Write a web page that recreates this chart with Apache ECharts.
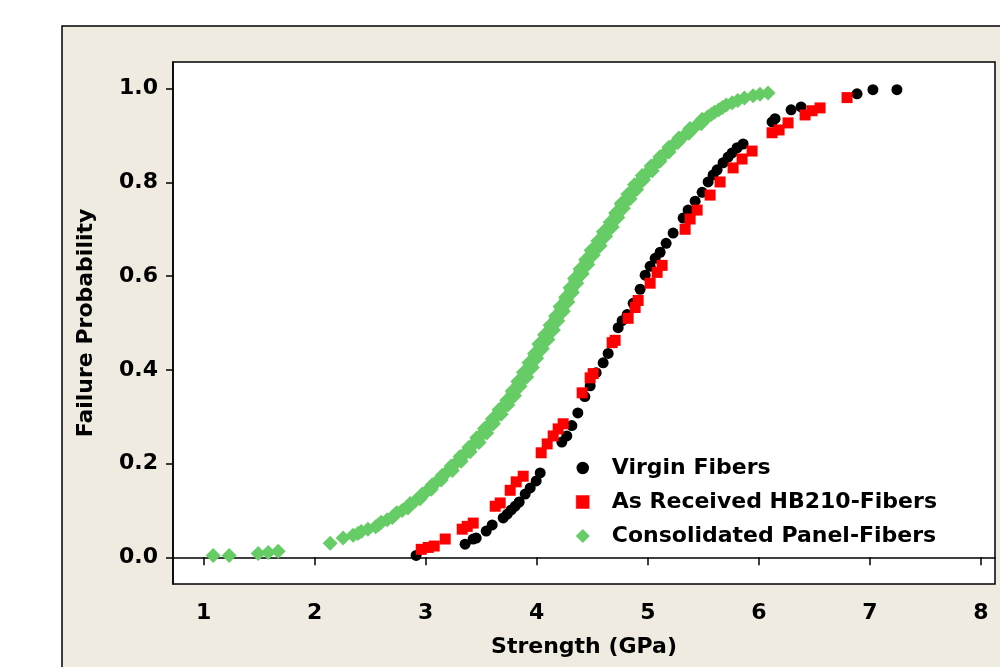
<!DOCTYPE html>
<html>
<head>
<meta charset="utf-8">
<script src="https://cdn.jsdelivr.net/npm/echarts@6/dist/echarts.min.js"></script>
<style>
html,body{margin:0;padding:0;background:#fff;}
#c{width:1000px;height:667px;}
</style>
</head>
<body>
<div id="c"></div>
<script>
const seriesNames = ['Virgin Fibers', 'As Received HB210-Fibers', 'Consolidated Panel-Fibers'];
const xTicks = [1, 2, 3, 4, 5, 6, 7, 8];
const yTicks = [0, 0.2, 0.4, 0.6, 0.8, 1.0];
const xTitle = 'Strength (GPa)';
const yTitle = 'Failure Probability';

const virginFibers = [
[2.914,0.004],[3.355,0.028],[3.427,0.039],[3.455,0.041],[3.545,0.056],[3.599,0.069],[3.698,0.084],[3.734,0.092],
[3.770,0.101],[3.806,0.109],[3.842,0.118],[3.896,0.135],[3.941,0.148],[3.995,0.163],[4.031,0.180],
[4.226,0.246],[4.271,0.259],[4.316,0.281],[4.370,0.308],[4.433,0.343],[4.481,0.366],[4.535,0.394],
[4.598,0.415],[4.643,0.435],[4.697,0.463],[4.733,0.490],[4.769,0.505],[4.814,0.518],[4.868,0.542],
[4.931,0.572],[4.976,0.602],[5.021,0.621],[5.066,0.638],[5.111,0.651],[5.165,0.670],[5.228,0.692],
[5.318,0.724],[5.363,0.741],[5.426,0.760],[5.489,0.779],[5.543,0.801],[5.588,0.816],[5.624,0.827],
[5.678,0.842],[5.723,0.854],[5.759,0.863],[5.804,0.874],[5.858,0.882],[6.119,0.929],[6.146,0.936],
[6.290,0.955],[6.380,0.961],[6.884,0.989],[7.027,0.998],[7.243,0.998]
];

const asReceived = [
[2.960,0.017],[3.023,0.021],[3.077,0.024],[3.176,0.039],[3.329,0.060],[3.374,0.066],[3.428,0.073],
[3.626,0.109],[3.671,0.116],[3.761,0.143],[3.815,0.161],[3.878,0.173],[4.040,0.223],[4.094,0.242],
[4.148,0.259],[4.193,0.274],[4.238,0.285],[4.409,0.351],[4.481,0.383],[4.508,0.392],[4.679,0.458],
[4.706,0.463],[4.823,0.510],[4.886,0.533],[4.913,0.548],[5.021,0.585],[5.084,0.608],[5.129,0.623],
[5.336,0.700],[5.381,0.722],[5.444,0.741],[5.561,0.773],[5.651,0.801],[5.768,0.831],[5.849,0.850],
[5.939,0.867],[6.119,0.906],[6.182,0.912],[6.263,0.927],[6.416,0.944],[6.479,0.953],[6.551,0.959],
[6.794,0.981]
];

const consolidated = [
[1.087,0.004],[1.231,0.004],[1.492,0.008],[1.582,0.010],[1.672,0.013],[2.140,0.030],[2.257,0.041],
[2.347,0.047],[2.39,0.051],[2.42,0.055],[2.48,0.06],[2.578,0.07],[2.654,0.08],[2.72,0.09],[2.788,0.10],
[2.85,0.11],[2.906,0.12],[2.96,0.13],[3.005,0.14],[3.05,0.15],[3.095,0.16],[3.14,0.17],[3.185,0.18],
[3.227,0.19],[3.269,0.20],[3.311,0.21],[3.35,0.22],[3.389,0.23],[3.428,0.24],[3.464,0.25],[3.5,0.26],
[3.536,0.27],[3.568,0.28],[3.6,0.29],[3.631,0.30],[3.664,0.31],[3.697,0.32],[3.73,0.33],[3.759,0.34],
[3.785,0.35],[3.812,0.36],[3.838,0.37],[3.865,0.38],[3.892,0.39],[3.919,0.40],[3.942,0.41],[3.965,0.42],
[3.988,0.43],[4.011,0.44],[4.035,0.45],[4.06,0.46],[4.084,0.47],[4.108,0.48],[4.131,0.49],[4.154,0.50],
[4.177,0.51],[4.2,0.52],[4.222,0.53],[4.245,0.54],[4.267,0.55],[4.29,0.56],[4.311,0.57],[4.33,0.58],
[4.35,0.59],[4.369,0.60],[4.395,0.61],[4.422,0.62],[4.449,0.63],[4.475,0.64],[4.502,0.65],[4.53,0.66],
[4.557,0.67],[4.585,0.68],[4.612,0.69],[4.64,0.70],[4.665,0.71],[4.69,0.72],[4.716,0.73],[4.742,0.74],
[4.768,0.75],[4.797,0.76],[4.828,0.77],[4.86,0.78],[4.891,0.79],[4.922,0.80],[4.957,0.81],[4.994,0.82],
[5.032,0.83],[5.069,0.84],[5.108,0.85],[5.148,0.86],[5.188,0.87],[5.228,0.88],[5.278,0.89],[5.328,0.90],
[5.378,0.91],[5.43,0.92],[5.485,0.93],[5.54,0.94],[5.57,0.945],[5.6,0.95],[5.64,0.955],[5.672,0.96],
[5.707,0.965],[5.76,0.97],[5.81,0.975],[5.87,0.98],[5.948,0.985],[6.01,0.988],[6.083,0.991],
[2.55,0.065],[2.60,0.075],[2.70,0.085],[2.74,0.095],[2.84,0.105],[2.86,0.115],[2.95,0.125],[2.97,0.135],
[3.05,0.145],[3.06,0.155],[3.14,0.165],[3.15,0.175],[3.24,0.185],[3.23,0.195],[3.32,0.205],[3.31,0.215],
[3.40,0.225],[3.39,0.235],[3.48,0.245],[3.46,0.255],[3.55,0.265],[3.53,0.275],[3.61,0.285],[3.60,0.295],
[3.68,0.305],[3.66,0.315],[3.74,0.325],[3.73,0.335],[3.80,0.345],[3.78,0.355],[3.85,0.365],[3.83,0.375],
[3.91,0.385],[3.88,0.395],[3.96,0.405],[3.93,0.415],[4.00,0.425],[3.98,0.435],[4.05,0.445],[4.02,0.455],
[4.10,0.465],[4.07,0.475],[4.15,0.485],[4.12,0.495],[4.19,0.505],[4.17,0.515],[4.24,0.525],[4.21,0.535],
[4.28,0.545],[4.26,0.555],[4.32,0.565],[4.30,0.575],[4.36,0.585],[4.34,0.595],[4.41,0.605],[4.39,0.615],
[4.46,0.625],[4.44,0.635],[4.51,0.645],[4.49,0.655],[4.57,0.665],[4.55,0.675],[4.62,0.685],[4.60,0.695],
[4.68,0.705],[4.66,0.715],[4.73,0.725],[4.71,0.735],[4.78,0.745],[4.76,0.755],[4.84,0.765],[4.82,0.775],
[4.90,0.785],[4.88,0.795],[4.96,0.805],[4.95,0.815],[5.04,0.825],[5.03,0.835],[5.11,0.845],[5.11,0.855],
[5.19,0.865],[5.19,0.875],[5.27,0.885],[5.28,0.895],[5.37,0.905],[5.38,0.915],[5.48,0.925],[5.49,0.935]
];

const FONT = 'DejaVu Sans';
const chart = echarts.init(document.getElementById('c'), null, {renderer: 'canvas'});
const lbl = {fontFamily: FONT, fontWeight: 'bold', fontSize: 22, color: '#000'};

chart.setOption({
  animation: false,
  backgroundColor: '#ffffff',
  graphic: [{
    type: 'rect', z: -10, silent: true,
    shape: {x: 62, y: 26, width: 1000, height: 700},
    style: {fill: '#EFEBE1', stroke: '#000', lineWidth: 1.5}
  }],
  grid: {
    left: 173, top: 62, width: 822, height: 522,
    show: true, backgroundColor: '#ffffff', borderColor: '#000', borderWidth: 1.5,
    containLabel: false
  },
  legend: {
    orient: 'vertical', left: 570, top: 452,
    itemWidth: 14, itemHeight: 14, itemGap: 12,
    textStyle: Object.assign({}, lbl, {padding: [0, 0, 0, 17]}),
    data: [
      {name: seriesNames[0], itemStyle: {borderColor: '#fff', borderWidth: 1.5}},
      {name: seriesNames[1], itemStyle: {borderColor: '#fff', borderWidth: 0.5}},
      {name: seriesNames[2]}
    ],
    selectedMode: false
  },
  xAxis: {
    type: 'value', min: 0.725, max: 8.126,
    name: xTitle, nameLocation: 'middle', nameGap: 52,
    nameTextStyle: lbl,
    axisLine: {show: true, lineStyle: {color: '#000', width: 1.5}},
    axisTick: {show: true, length: 8, lineStyle: {color: '#000', width: 1.5}, customValues: xTicks},
    axisLabel: Object.assign({}, lbl, {margin: 18, customValues: xTicks, formatter: v => String(Math.round(v))}),
    splitLine: {show: false}
  },
  yAxis: {
    type: 'value', min: -0.057, max: 1.057,
    name: yTitle, nameLocation: 'middle', nameGap: 76, nameRotate: 90,
    nameTextStyle: lbl,
    axisLine: {show: true, lineStyle: {color: '#000', width: 1.5}},
    axisTick: {show: true, length: 7, lineStyle: {color: '#000', width: 1.5}, customValues: yTicks},
    axisLabel: Object.assign({}, lbl, {margin: 15, customValues: yTicks, formatter: v => v.toFixed(1)}),
    splitLine: {show: false}
  },
  series: [
    {name: seriesNames[0], type: 'scatter', data: virginFibers, symbol: 'circle', symbolSize: 11,
     itemStyle: {color: '#000000', opacity: 1}},
    {name: seriesNames[1], type: 'scatter', data: asReceived, symbol: 'rect', symbolSize: 11,
     itemStyle: {color: '#FF0000', opacity: 1}},
    {name: seriesNames[2], type: 'scatter', data: consolidated, symbol: 'diamond', symbolSize: 15,
     itemStyle: {color: '#66CC66', opacity: 1}}
  ]
});
</script>
</body>
</html>
